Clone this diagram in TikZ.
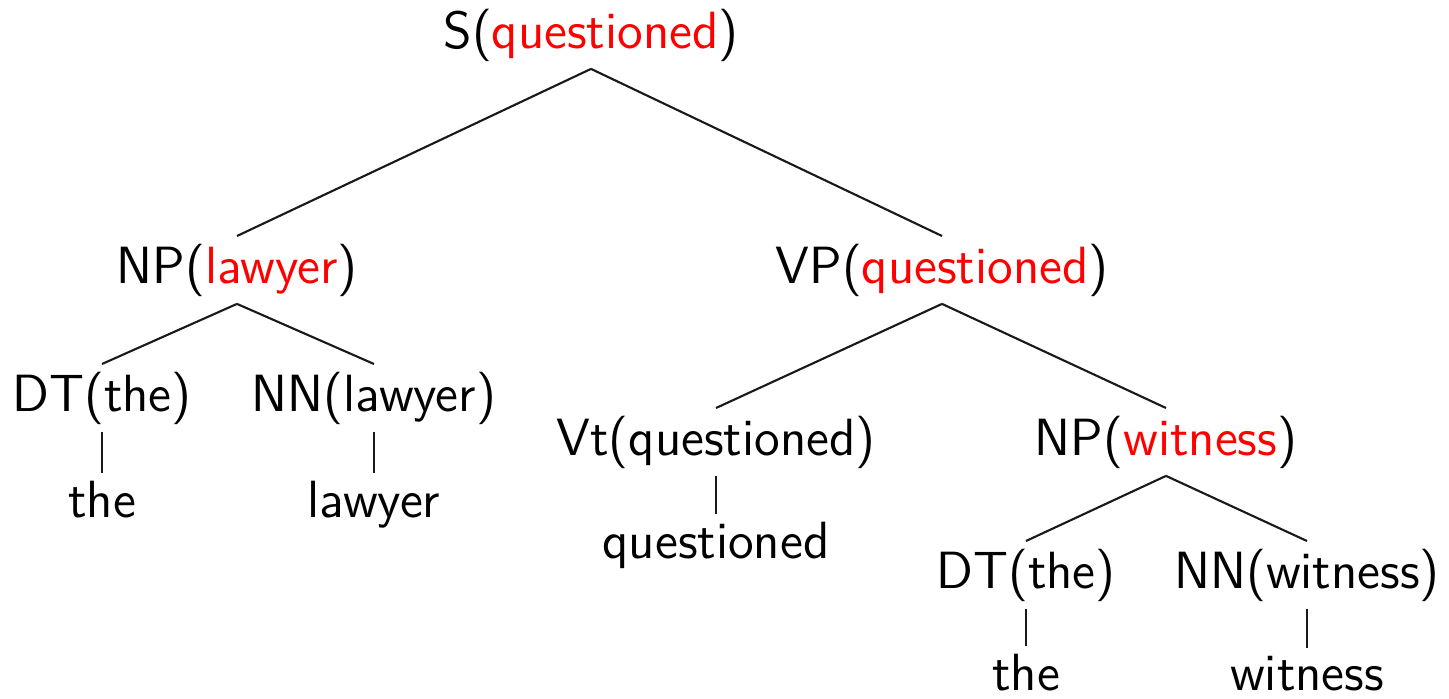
\documentclass[tikz,border=0pt]{standalone}
\usepackage{xcolor}
\usepackage{tikz}
\usetikzlibrary{positioning}

\newcommand{\hw}[1]{\textcolor{red}{#1}}

\begin{document}
\begin{tikzpicture}[
    x=1cm, y=1cm,
    every node/.style={font=\fontsize{14.9}{18}\selectfont\sffamily},
    tag/.style={anchor=base, inner sep=2pt},
    word/.style={anchor=base, inner sep=2pt},
    branch/.style={line width=0.6pt, black!90},
]
    \useasboundingbox (0,0) rectangle (14.49,-6.98);

    % top
    \node[tag] (s)  at (5.91, -0.48) {S(\hw{questioned})};

    % left subtree
    \node[tag] (np)   at (2.37, -2.83) {NP(\hw{lawyer})};
    \node[tag] (dtl)  at (1.02, -4.11) {DT(the)};
    \node[tag] (nnl)  at (3.74, -4.11) {NN(lawyer)};
    \node[word] (thel)   at (1.02, -5.17) {the};
    \node[word] (lawyer) at (3.74, -5.17) {lawyer};

    % right subtree
    \node[tag] (vp)   at (9.42, -2.83) {VP(\hw{questioned})};
    \node[tag] (vt)   at (7.16, -4.55) {Vt(questioned)};
    \node[tag] (npw)  at (11.66, -4.55) {NP(\hw{witness})};
    \node[word] (quest) at (7.16, -5.58) {questioned};
    \node[tag] (dtw)  at (10.26, -5.88) {DT(the)};
    \node[tag] (nnw)  at (13.07, -5.88) {NN(witness)};
    \node[word] (thew)    at (10.26, -6.90) {the};
    \node[word] (witness) at (13.07, -6.90) {witness};

    \draw[branch] (s.south)   -- (np.north);
    \draw[branch] (s.south)   -- (vp.north);
    \draw[branch] (np.south)  -- (dtl.north);
    \draw[branch] (np.south)  -- (nnl.north);
    \draw[branch] (dtl.south) -- (thel.north);
    \draw[branch] (nnl.south) -- (lawyer.north);
    \draw[branch] (vp.south)  -- (vt.north);
    \draw[branch] (vp.south)  -- (npw.north);
    \draw[branch] (vt.south)  -- (quest.north);
    \draw[branch] (npw.south) -- (dtw.north);
    \draw[branch] (npw.south) -- (nnw.north);
    \draw[branch] (dtw.south) -- (thew.north);
    \draw[branch] (nnw.south) -- (witness.north);
\end{tikzpicture}
\end{document}
